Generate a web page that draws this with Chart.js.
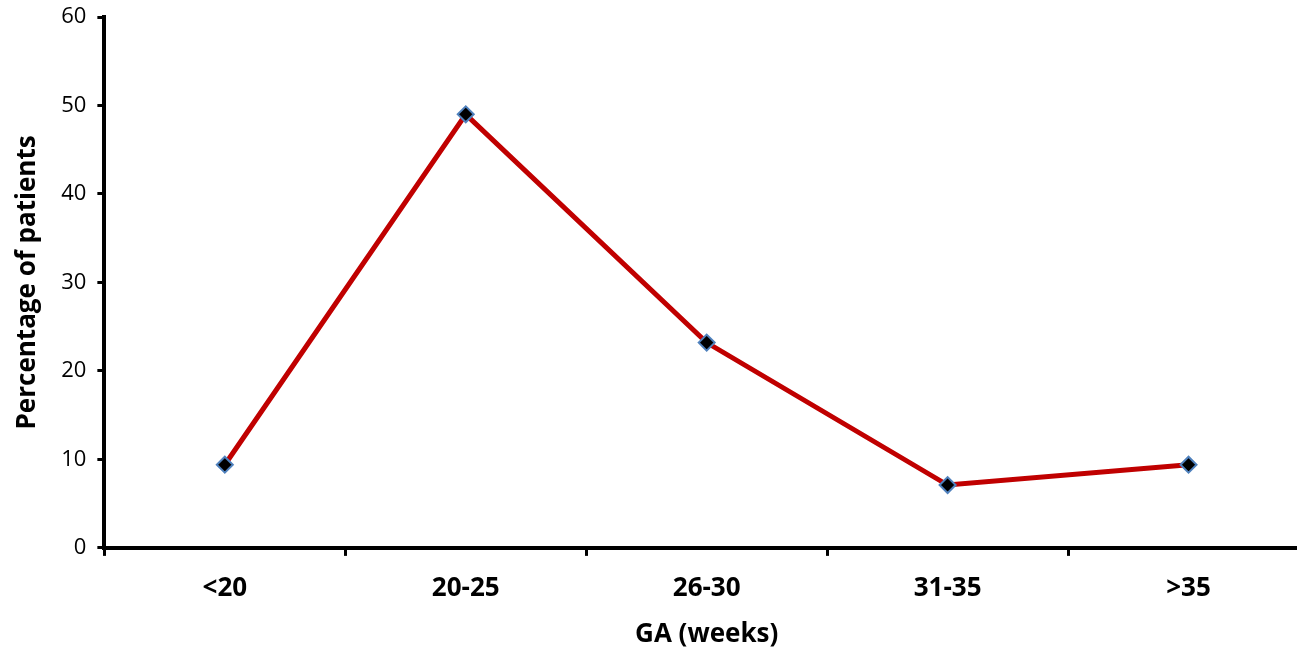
<!DOCTYPE html>
<html>
<head>
<meta charset="utf-8">
<script src="https://cdn.jsdelivr.net/npm/chart.js@4"></script>
<style>
  html, body { margin: 0; padding: 0; background: #ffffff; overflow: hidden; }
  /* the plot runs a little past the right edge of the window, as in the reference */
  #wrap { width: 1319px; height: 649px; position: relative; }
</style>
</head>
<body>
<div id="wrap"><canvas id="gaChart"></canvas></div>
<script>
// categories and values
const categories = ['<20', '20-25', '26-30', '31-35', '>35'];
const percentages = [9.4, 49.0, 23.2, 7.1, 9.4];
const yTicks = [0, 10, 20, 30, 40, 50, 60];

const fontFamily = "'Open Sans', 'Liberation Sans', sans-serif";

new Chart(document.getElementById('gaChart'), {
  type: 'line',
  data: {
    labels: categories,
    datasets: [{
      label: 'Percentage of patients',
      data: percentages,
      borderColor: '#c00000',
      borderWidth: 5,
      tension: 0,
      pointStyle: 'rectRot',
      pointRadius: 8,
      pointBackgroundColor: '#000000',
      pointBorderColor: '#4f81bd',
      pointBorderWidth: 2
    }]
  },
  options: {
    responsive: true,
    maintainAspectRatio: false,
    animation: false,
    layout: { padding: { top: 17, right: 3, left: 12, bottom: 2 } },
    plugins: {
      legend: { display: false },
      tooltip: { enabled: false }
    },
    scales: {
      x: {
        offset: true,
        afterFit: (axis) => { axis.paddingLeft = 0; axis.paddingRight = 0; },
        border: { display: true, color: '#000000', width: 4 },
        grid: {
          drawOnChartArea: false,
          drawTicks: true,
          tickLength: 8,
          tickWidth: 3,
          tickColor: '#000000',
          offset: true
        },
        ticks: {
          color: '#000000',
          padding: 17,
          font: { family: fontFamily, size: 26, weight: 'bold' }
        },
        title: {
          display: true,
          text: 'GA (weeks)',
          color: '#000000',
          padding: { top: 2, bottom: 0 },
          font: { family: fontFamily, size: 26, weight: 'bold', lineHeight: 0.92 }
        }
      },
      y: {
        min: 0,
        max: 60,
        afterBuildTicks: (axis) => { axis.ticks = yTicks.map(v => ({ value: v })); },
        afterFit: (axis) => { axis.paddingTop = 0; axis.paddingBottom = 0; },
        border: { display: true, color: '#000000', width: 4 },
        grid: {
          drawOnChartArea: false,
          drawTicks: true,
          tickLength: 7,
          tickWidth: 3,
          tickColor: '#000000'
        },
        ticks: {
          color: '#000000',
          padding: 11,
          font: { family: fontFamily, size: 22 }
        },
        title: {
          display: true,
          text: 'Percentage of patients',
          color: '#000000',
          padding: { top: 0, bottom: 7 },
          font: { family: fontFamily, size: 26, weight: 'bold' }
        }
      }
    }
  }
});
</script>
</body>
</html>
